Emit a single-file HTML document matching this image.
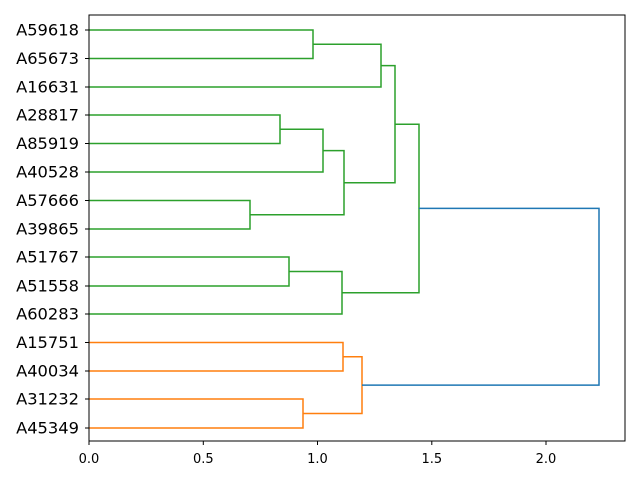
<!DOCTYPE html>
<html><head><style>body{margin:0;background:#fff}</style></head><body>
<svg width="640" height="480" xmlns="http://www.w3.org/2000/svg" font-family="'DejaVu Sans', sans-serif">
<rect width="640" height="480" fill="#fff"/>
<g fill="none" stroke-width="1.5">
<g stroke="#2ca02c">
<path d="M89,30H313V58.5H89"/>
<path d="M313,44.2H381V87H89"/>
<path d="M89,115H280V143.5H89"/>
<path d="M280,129.2H323V172H89"/>
<path d="M89,200.5H250V229H89"/>
<path d="M323,150.6H344V214.8H250"/>
<path d="M381,65.6H395V182.7H344"/>
<path d="M89,257H289V286H89"/>
<path d="M289,271.5H342V314H89"/>
<path d="M395,124.2H419V292.7H342"/>
</g>
<g stroke="#ff7f0e">
<path d="M89,342.5H343V371H89"/>
<path d="M89,399H303V428H89"/>
<path d="M343,356.8H362V413.5H303"/>
</g>
<path stroke="#1f77b4" d="M419,208.4H599V385.1H362"/>
</g>
<rect x="89" y="15" width="536" height="426" fill="none" stroke="#000" stroke-width="1"/>
<g stroke="#000">
<path d="M89,441v4M203.3,441v4M317.5,441v4M431.8,441v4M546,441v4"/>
<path d="M89,30h-4M89,58.5h-4M89,87h-4M89,115h-4M89,143.5h-4M89,172h-4M89,200.5h-4M89,229h-4M89,257h-4M89,286h-4M89,314h-4M89,342.5h-4M89,371h-4M89,399h-4M89,428h-4"/>
</g>
<g font-size="13" text-anchor="middle">
<text x="89" y="463">0.0</text><text x="203.3" y="463">0.5</text><text x="317.5" y="463">1.0</text><text x="431.8" y="463">1.5</text><text x="546" y="463">2.0</text>
</g>
<g font-size="16.3" text-anchor="end" dominant-baseline="central">
<text x="79" y="30">A59618</text><text x="79" y="58.5">A65673</text><text x="79" y="87">A16631</text>
<text x="79" y="115">A28817</text><text x="79" y="143.5">A85919</text><text x="79" y="172">A40528</text>
<text x="79" y="200.5">A57666</text><text x="79" y="229">A39865</text><text x="79" y="257">A51767</text>
<text x="79" y="286">A51558</text><text x="79" y="314">A60283</text><text x="79" y="342.5">A15751</text>
<text x="79" y="371">A40034</text><text x="79" y="399">A31232</text><text x="79" y="428">A45349</text>
</g>
</svg>
</body></html>
